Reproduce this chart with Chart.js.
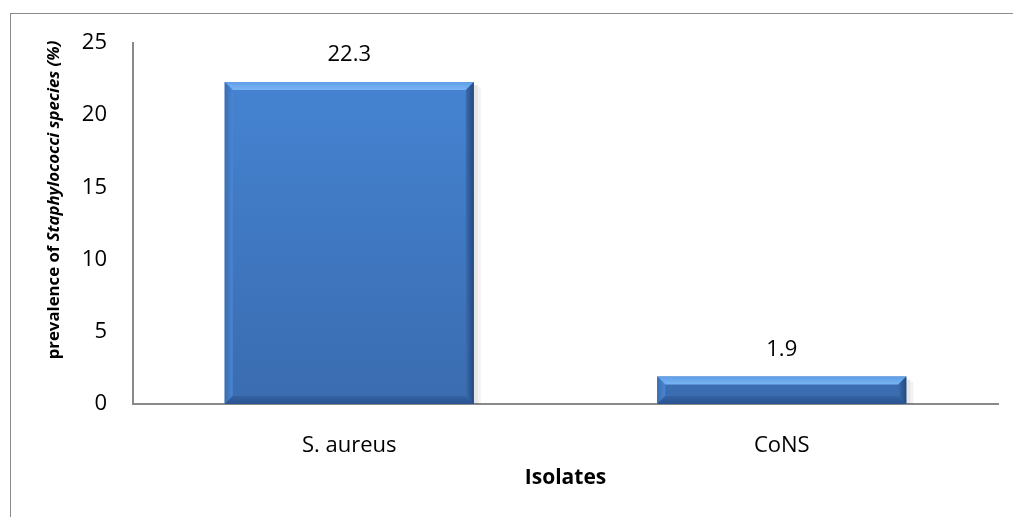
<!DOCTYPE html>
<html>
<head>
<meta charset="utf-8">
<script src="https://cdn.jsdelivr.net/npm/chart.js@4"></script>
<style>
  html, body { margin: 0; padding: 0; background: #fff; }
  #wrap { position: relative; width: 1013px; height: 517px; }
  #frame { position: absolute; left: 10px; top: 13px; right: 0; bottom: 0;
           border-left: 1px solid #8a8a8a; border-top: 1px solid #8a8a8a; }
  canvas { position: absolute; left: 0; top: 0; }
</style>
</head>
<body>
<div id="wrap">
  <div id="frame"></div>
  <canvas id="barChart" width="1013" height="517"></canvas>
</div>
<script>
const categories = ['S. aureus', 'CoNS'];
const prevalence = [22.3, 1.9];
const yTicks = [0, 5, 10, 15, 20, 25];

const FONT = '"Open Sans", sans-serif';

// bevel edges + drop shadow on each bar, using the bar geometry from the scales
const bevelPlugin = {
    id: 'bevel',
    beforeDatasetsDraw(chart) {
        const c = chart.ctx;
        chart.getDatasetMeta(0).data.forEach(bar => {
            const r = bar.x + bar.width / 2;
            c.save();
            c.fillStyle = 'rgba(0,0,0,0.10)';
            c.fillRect(r, bar.y + 3, 4, bar.base - bar.y - 3);
            c.fillStyle = 'rgba(0,0,0,0.05)';
            c.fillRect(r + 4, bar.y + 5, 3, bar.base - bar.y - 5);
            c.restore();
        });
    },
    afterDatasetsDraw(chart) {
        const c = chart.ctx;
        chart.getDatasetMeta(0).data.forEach(bar => {
            const l = bar.x - bar.width / 2, r = bar.x + bar.width / 2;
            const t = bar.y, b = bar.base;
            const e = Math.min(8, (b - t) / 2);
            c.save();
            // top strip
            let g = c.createLinearGradient(0, t, 0, t + e);
            g.addColorStop(0, '#5f9ee8'); g.addColorStop(1, '#7ab4f2');
            c.fillStyle = g;
            c.beginPath(); c.moveTo(l, t); c.lineTo(r, t); c.lineTo(r - e, t + e); c.lineTo(l + e, t + e); c.closePath(); c.fill();
            // left strip
            g = c.createLinearGradient(l, 0, l + e, 0);
            g.addColorStop(0, '#3a6db0'); g.addColorStop(1, '#4a86d2');
            c.fillStyle = g;
            c.beginPath(); c.moveTo(l, t); c.lineTo(l + e, t + e); c.lineTo(l + e, b - e); c.lineTo(l, b); c.closePath(); c.fill();
            // right strip
            g = c.createLinearGradient(r - e, 0, r, 0);
            g.addColorStop(0, '#3a6db0'); g.addColorStop(1, '#24477c');
            c.fillStyle = g;
            c.beginPath(); c.moveTo(r, t); c.lineTo(r, b); c.lineTo(r - e, b - e); c.lineTo(r - e, t + e); c.closePath(); c.fill();
            // bottom strip
            g = c.createLinearGradient(0, b - e, 0, b);
            g.addColorStop(0, '#3563a3'); g.addColorStop(1, '#2a5290');
            c.fillStyle = g;
            c.beginPath(); c.moveTo(l, b); c.lineTo(r, b); c.lineTo(r - e, b - e); c.lineTo(l + e, b - e); c.closePath(); c.fill();
            c.restore();
        });
    }
};

// value labels above the bars
const valueLabels = {
    id: 'valueLabels',
    afterDatasetsDraw(chart) {
        const c = chart.ctx;
        c.save();
        c.font = '22px ' + FONT;
        c.fillStyle = '#000';
        c.textAlign = 'center';
        c.textBaseline = 'middle';
        chart.getDatasetMeta(0).data.forEach((bar, i) => {
            c.fillText(prevalence[i].toFixed(1), bar.x, bar.y - 27);
        });
        c.restore();
    }
};

// axis titles (y title has the italic species name)
const axisTitles = {
    id: 'axisTitles',
    afterDraw(chart) {
        const c = chart.ctx;
        const area = chart.chartArea;
        const parts = [
            ['bold 16.8px ' + FONT, 'prevalence of '],
            ['italic bold 16.8px ' + FONT, 'Staphylococci species (%)']
        ];
        c.save();
        let total = 0;
        parts.forEach(p => { c.font = p[0]; total += c.measureText(p[1]).width; });
        c.translate(54, 200);
        c.rotate(-Math.PI / 2);
        c.fillStyle = '#000';
        c.textBaseline = 'middle';
        let x = -total / 2;
        parts.forEach(p => { c.font = p[0]; c.fillText(p[1], x, 0); x += c.measureText(p[1]).width; });
        c.restore();

        c.save();
        c.font = 'bold 21px ' + FONT;
        c.fillStyle = '#000';
        c.textAlign = 'center';
        c.textBaseline = 'middle';
        c.fillText('Isolates', (area.left + area.right) / 2, 478);
        c.restore();
    }
};

const ctx = document.getElementById('barChart').getContext('2d');

new Chart(ctx, {
    type: 'bar',
    data: {
        labels: categories,
        datasets: [{
            data: prevalence,
            backgroundColor: (context) => {
                const area = context.chart.chartArea;
                if (!area) return '#4280cf';
                const g = context.chart.ctx.createLinearGradient(0, area.top, 0, area.bottom);
                g.addColorStop(0, '#4686d6');
                g.addColorStop(1, '#3a6cb0');
                return g;
            },
            borderWidth: 0,
            categoryPercentage: 0.576,
            barPercentage: 1
        }]
    },
    options: {
        responsive: false,
        animation: false,
        layout: { padding: { left: 0, right: 15, top: 43, bottom: 0 } },
        plugins: {
            legend: { display: false },
            tooltip: { enabled: false }
        },
        scales: {
            x: {
                grid: { display: false, drawTicks: false },
                border: { color: '#8a8a8a', width: 2 },
                ticks: { color: '#000', font: { family: FONT, size: 22 }, padding: 29 },
                afterFit(scale) { scale.height = 113; }
            },
            y: {
                min: 0, max: 25,
                afterBuildTicks(scale) { scale.ticks = yTicks.map(v => ({ value: v })); },
                grid: { display: false, drawTicks: false },
                border: { color: '#8a8a8a', width: 2 },
                ticks: { color: '#000', font: { family: FONT, size: 22 }, padding: 26 },
                afterFit(scale) { scale.width = 133; }
            }
        }
    },
    plugins: [bevelPlugin, valueLabels, axisTitles]
});
</script>
</body>
</html>
